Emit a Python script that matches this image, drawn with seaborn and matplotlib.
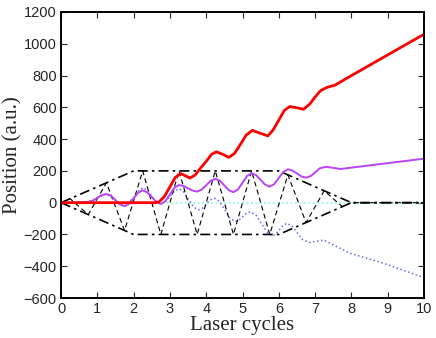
import numpy as np
import pandas as pd
import matplotlib
matplotlib.use('Agg')
import matplotlib.pyplot as plt
import seaborn as sns

# ---- data ----
# laser field vertices (dashed) and its envelope (dash-dot)
field_t = [0, 0.25, 0.75, 1.25, 1.75, 2.25, 2.75, 3.25, 3.75, 4.25, 4.75,
           5.25, 5.75, 6.25, 6.75, 7.25, 7.75, 8.0, 10.0]
field_v = [0, 25, -75, 125, -175, 200, -200, 200, -200, 200, -200,
           200, -200, 175, -125, 75, -25, 0, 0]

env_t = [0, 2, 6, 8, 10]
env_upper = [0, 200, 200, 0, 0]
env_lower = [0, -200, -200, 0, 0]

# red trajectory
red_t = [0, 2.6, 2.7, 2.85, 3.0, 3.15, 3.3, 3.42, 3.55, 3.7, 3.85, 4.0, 4.15,
         4.28, 4.45, 4.62, 4.78, 4.95, 5.1, 5.27, 5.45, 5.7, 5.85, 6.0, 6.15,
         6.3, 6.48, 6.68, 6.85, 7.0, 7.15, 7.32, 7.55, 8.0, 9.0, 10.0]
red_v = [0, 0, 5, 40, 100, 160, 183, 170, 155, 175, 220, 260, 305,
         320, 305, 285, 310, 370, 425, 455, 440, 420, 460, 520, 580,
         605, 598, 588, 620, 665, 705, 725, 740, 800, 930, 1060]

# purple trajectory
purple_t = [0, 0.25, 0.5, 0.75, 0.875, 1.0, 1.125, 1.25, 1.375, 1.5, 1.625,
            1.75, 1.875, 2.0, 2.125, 2.25, 2.375, 2.5, 2.625, 2.75, 2.875,
            3.0, 3.125, 3.25, 3.375, 3.5, 3.625, 3.75, 3.875, 4.0, 4.125,
            4.25, 4.375, 4.5, 4.625, 4.75, 4.875, 5.0, 5.125, 5.25, 5.375,
            5.5, 5.625, 5.75, 5.875, 6.0, 6.125, 6.25, 6.375, 6.5, 6.625,
            6.75, 6.875, 7.0, 7.125, 7.3, 7.5, 7.7, 10.0]
purple_v = [0, 1, 2, 5, 12, 30, 48, 55, 44, 16, -11,
            -22, -7, 28, 63, 78, 65, 35, 5, -8, 9,
            52, 94, 111, 105, 90, 76, 70, 82, 110, 138,
            150, 138, 108, 78, 66, 83, 126, 168, 185, 173,
            143, 113, 101, 117, 156, 194, 210, 202, 184, 165,
            157, 167, 190, 216, 226, 219, 212, 277]

# blue dotted trajectory
blue_t = [0, 0.25, 0.5, 0.75, 1.0, 1.25, 1.5, 1.75, 2.0, 2.125, 2.25, 2.375,
          2.5, 2.625, 2.75, 2.875, 3.0, 3.125, 3.25, 3.38, 3.5, 3.65, 3.78,
          3.9, 4.0, 4.1, 4.22, 4.35, 4.5, 4.65, 4.8, 4.92, 5.0, 5.1, 5.22,
          5.37, 5.52, 5.67, 5.82, 5.92, 6.02, 6.12, 6.22, 6.37, 6.51, 6.66,
          6.86, 7.0, 7.23, 7.5, 7.96, 8.88, 10.0]
blue_v = [0, 1, 2, 5, 30, 55, 16, -22, 30, 72, 95, 80,
          42, 4, -10, 4, 39, 74, 88, 68, 25, -26, -46,
          -34, -9, 16, 28, 10, -40, -95, -119, -106, -90, -68, -57,
          -79, -131, -183, -210, -198, -170, -142, -130, -147, -190, -234,
          -251, -245, -235, -266, -318, -381, -472]

# cyan dotted trajectory (stays at zero)
cyan_t = [0, 10]
cyan_v = [0, 0]

x_ticks = [0, 1, 2, 3, 4, 5, 6, 7, 8, 9, 10]
y_ticks = [-600, -400, -200, 0, 200, 400, 600, 800, 1000, 1200]

# ---- style ----
sns.set_style('ticks')
plt.rcParams['font.family'] = ['Liberation Sans', 'DejaVu Sans']
plt.rcParams['axes.linewidth'] = 1.4
plt.rcParams['xtick.direction'] = 'in'
plt.rcParams['ytick.direction'] = 'in'

fig = plt.figure(figsize=(4.36, 3.38), dpi=100)
ax = fig.add_axes([0.140, 0.1183, 0.8325, 0.8462])

dashdot = (0, (6, 2.5, 1.5, 2.5))

sns.lineplot(x=cyan_t, y=cyan_v, ax=ax, color='#7fffd4', linestyle=':',
             linewidth=1.2, sort=False, estimator=None)
sns.lineplot(x=blue_t, y=blue_v, ax=ax, color='#5b6dff', linestyle=':',
             linewidth=1.1, sort=False, estimator=None)
sns.lineplot(x=field_t, y=field_v, ax=ax, color='black',
             linestyle=(0, (4.5, 3)), linewidth=0.8, sort=False, estimator=None)
sns.lineplot(x=env_t, y=env_upper, ax=ax, color='black', linestyle=dashdot,
             linewidth=1.2, sort=False, estimator=None)
sns.lineplot(x=env_t, y=env_lower, ax=ax, color='black', linestyle=dashdot,
             linewidth=1.2, sort=False, estimator=None)
sns.lineplot(x=purple_t, y=purple_v, ax=ax, color='#bb44f5', linestyle='-',
             linewidth=1.4, sort=False, estimator=None)
sns.lineplot(x=red_t, y=red_v, ax=ax, color='#ff0000', linestyle='-',
             linewidth=2.0, sort=False, estimator=None)

ax.set_xlim(0, 10)
ax.set_ylim(-600, 1200)
ax.set_xticks(x_ticks)
ax.set_yticks(y_ticks)
ax.tick_params(axis='both', which='both', direction='in', length=4,
               width=0.8, top=True, right=True, labelsize=10.5, pad=3)
for side in ['top', 'right', 'left', 'bottom']:
    ax.spines[side].set_visible(True)
    ax.spines[side].set_color('black')

ax.set_xlabel('Laser cycles', family=['Liberation Serif', 'DejaVu Serif'],
              fontsize=15, labelpad=0)
ax.set_ylabel('Position (a.u.)', family=['Liberation Serif', 'DejaVu Serif'],
              fontsize=15, labelpad=1)

fig.savefig('out.png', dpi=100)
